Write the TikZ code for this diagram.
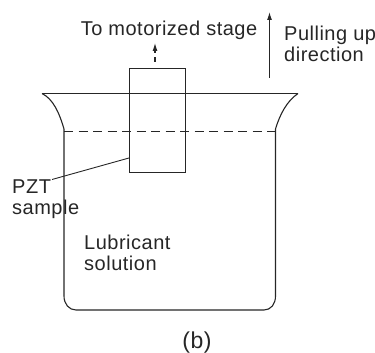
\documentclass[tikz,border=0pt]{standalone}
\usepackage{fontspec}
\setmainfont{Liberation Sans}[LetterSpace=2.5]
\usepackage{tikz}
\usetikzlibrary{arrows.meta,
    positioning}
\tikzset{
    lbl/.style={inner sep=0pt,align=left,text=black!85,font=\fontsize{20}{21}\selectfont},
    wall/.style={line width=1.1pt,black!85},
    tip/.style={-{Latex[length=8pt,width=5pt]},line width=1.1pt,black!85}
}
\begin{document}
\begin{tikzpicture}[x=1pt,y=-1pt]
                  \useasboundingbox (0,0) rectangle (375,353);
                  % beaker
                  \draw[wall] (42,93.5) -- (298,93.5);
                  \draw[wall] (42,93.5) .. controls (53,99) and (59,112) .. (64,129)
                      -- (64,296) .. controls (64,304) and (69,310) .. (76,310)
                      -- (264,310) .. controls (271,310) and (275.5,304) .. (275.5,296)
                      -- (275.5,129) .. controls (280,114) and (287,101) .. (298,93.5);
                  \draw[wall,dash pattern=on 9pt off 5.5pt] (64,131.5) -- (277,131.5);
                  % sample
                  \node[wall,draw,minimum width=56pt,minimum height=103.5pt,inner sep=0pt] (sample) at (157.5,120.5) {};
                  \coordinate (pull1) at (269.5,78);
                  \coordinate (pull2) at (269.5,12);
                  \draw[tip] (pull1) -- (pull2);
                  \coordinate (stage1) at (155,62);
                  \coordinate (stage2) at (155,43);
                  \draw[tip,dash pattern=on 5pt off 4pt] (stage1) -- (stage2);
                  \coordinate (pztend) at (52,179.5);
                  \draw[wall,line width=0.9pt] (sample.west |- 0,158) -- (pztend);
                  \node[lbl] (stagetxt) at (169,30) {To motorized stage};
                  \node[lbl,anchor=west] (pulltxt) at (284,44) {Pulling up\\direction};
                  \node[lbl,anchor=west] (pzttxt) at (12,199) {PZT\\sample};
                  \node[lbl,anchor=west] (solntxt) at (84,253) {Lubricant\\solution};
                  \node[lbl,font=\fontsize{23}{23}\selectfont] (captxt) at (197,343) {(b)};
              \end{tikzpicture}
\end{document}
